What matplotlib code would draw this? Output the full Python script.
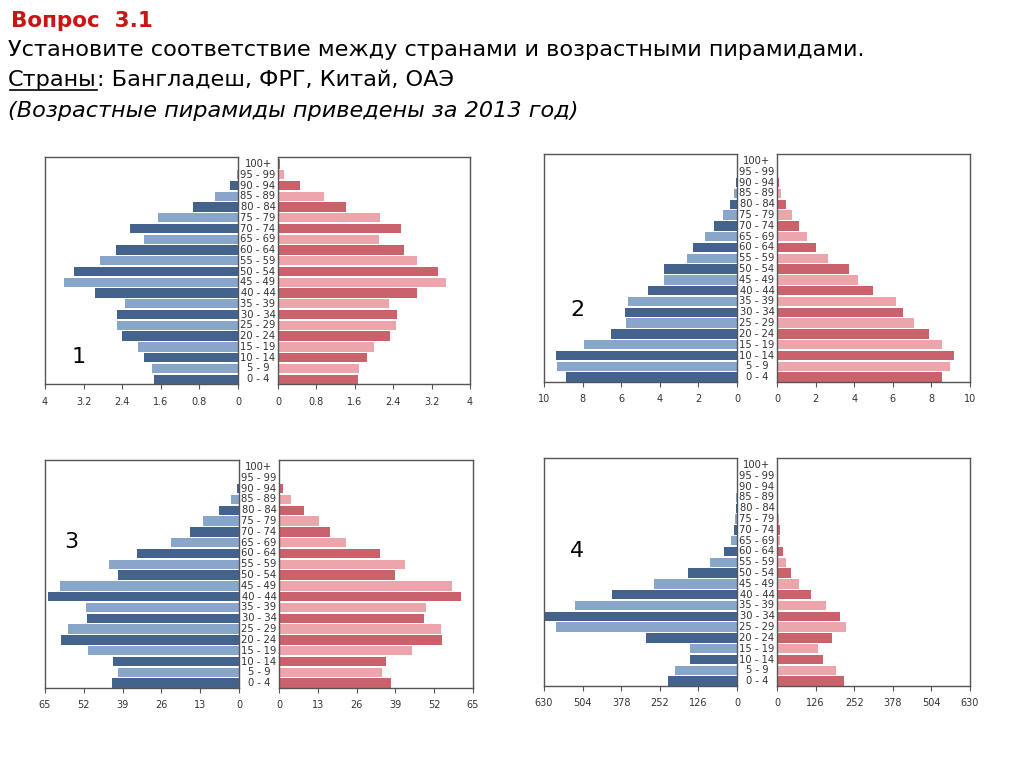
import numpy as np
import matplotlib.pyplot as plt
from matplotlib.transforms import blended_transform_factory
from matplotlib.lines import Line2D

# Возрастные группы (снизу вверх)
ages = ['0 - 4', '5 - 9', '10 - 14', '15 - 19', '20 - 24', '25 - 29', '30 - 34',
        '35 - 39', '40 - 44', '45 - 49', '50 - 54', '55 - 59', '60 - 64', '65 - 69',
        '70 - 74', '75 - 79', '80 - 84', '85 - 89', '90 - 94', '95 - 99', '100+']

# Пирамида 1
male_1 = [1.75, 1.78, 1.94, 2.08, 2.41, 2.51, 2.50, 2.35, 2.96, 3.61, 3.39,
          2.85, 2.52, 1.94, 2.23, 1.66, 0.93, 0.47, 0.17, 0.02, 0.005]
female_1 = [1.67, 1.69, 1.85, 1.99, 2.33, 2.45, 2.47, 2.32, 2.89, 3.51, 3.34,
            2.89, 2.63, 2.11, 2.57, 2.13, 1.41, 0.95, 0.46, 0.12, 0.04]
ticks_1 = [0, 0.8, 1.6, 2.4, 3.2, 4]
ticklabels_1 = ['0', '0.8', '1.6', '2.4', '3.2', '4']

# Пирамида 2
male_2 = [8.88, 9.33, 9.36, 7.91, 6.52, 5.74, 5.78, 5.66, 4.59, 3.79, 3.79,
          2.60, 2.26, 1.67, 1.19, 0.74, 0.36, 0.17, 0.07, 0.02, 0.02]
female_2 = [8.57, 8.98, 9.19, 8.57, 7.89, 7.08, 6.51, 6.18, 4.99, 4.20, 3.75,
            2.63, 2.02, 1.55, 1.16, 0.79, 0.45, 0.19, 0.09, 0.03, 0.02]
ticks_2 = [0, 2, 4, 6, 8, 10]
ticklabels_2 = ['0', '2', '4', '6', '8', '10']

# Пирамида 3
male_3 = [42.5, 40.4, 42.2, 50.5, 59.8, 57.2, 50.8, 51.1, 63.9, 60.0, 40.4,
          43.6, 34.3, 22.8, 16.5, 12.1, 6.8, 2.8, 0.8, 0.1, 0.1]
female_3 = [37.4, 34.5, 36.0, 44.4, 54.5, 54.2, 48.5, 49.4, 61.1, 57.9, 38.8,
            42.1, 33.9, 22.6, 17.1, 13.4, 8.4, 3.9, 1.5, 0.2, 0.2]
ticks_3 = [0, 13, 26, 39, 52, 65]
ticklabels_3 = ['0', '13', '26', '39', '52', '65']

# Пирамида 4
male_4 = [226, 201, 155, 155, 298, 590, 630, 528, 408, 272, 161,
          87, 42, 18, 10, 5, 2, 2, 0.5, 0.5, 0.5]
female_4 = [218, 194, 150, 134, 181, 225, 206, 159, 110, 71, 45,
            30, 18, 11, 10, 5, 2, 1, 1, 1, 0.5]
ticks_4 = [0, 126, 252, 378, 504, 630]
ticklabels_4 = ['0', '126', '252', '378', '504', '630']

W, H = 1024, 767
male_colors = ['#44638c', '#87a6c9']
female_colors = ['#c9626a', '#eca5aa']
frame_color = '#555555'
text_color = '#333333'


def px_axes(fig, x0, y0, x1, y1):
    return fig.add_axes([x0 / W, 1 - y1 / H, (x1 - x0) / W, (y1 - y0) / H])


def style_axes(ax, ticks, ticklabels, xmax):
    ax.set_xlim(0, xmax)
    ax.set_ylim(-0.45, len(ages) - 0.35)
    ax.set_yticks([])
    ax.set_xticks(ticks)
    ax.set_xticklabels(ticklabels)
    ax.tick_params(axis='x', labelsize=7, colors=frame_color, labelcolor=text_color,
                   length=3.5, width=0.8, pad=5.5)
    for s in ax.spines.values():
        s.set_color(frame_color)
        s.set_linewidth(1.0)


def pyramid(fig, box_l, box_r, male, female, ticks, ticklabels, num, num_pos):
    ax_l = px_axes(fig, *box_l)
    ax_r = px_axes(fig, *box_r)
    y = np.arange(len(ages))
    cm = [male_colors[i % 2] for i in y]
    cf = [female_colors[i % 2] for i in y]
    ax_l.barh(y, male, height=0.86, color=cm)
    ax_r.barh(y, female, height=0.86, color=cf)
    xmax = ticks[-1]
    style_axes(ax_l, ticks, ticklabels, xmax)
    style_axes(ax_r, ticks, ticklabels, xmax)
    ax_l.invert_xaxis()

    # подписи возрастных групп между половинами
    gap = box_r[0] - box_l[2]
    width = box_l[2] - box_l[0]
    xc = 1 + gap / 2 / width
    tr = blended_transform_factory(ax_l.transAxes, ax_l.transData)
    for i, a in enumerate(ages):
        ax_l.text(xc, i, a, transform=tr, ha='center', va='center',
                  fontsize=7.2, color=text_color, clip_on=False)

    fig.text(num_pos[0] / W, 1 - num_pos[1] / H, num, fontsize=16,
             ha='center', va='center', color='black')


def main():
    plt.rcParams['font.family'] = ['DejaVu Sans']
    fig = plt.figure(figsize=(W / 100, H / 100), dpi=100)
    fig.patch.set_facecolor('white')

    pyramid(fig, (45, 157, 238, 384), (278, 157, 470, 384),
            male_1, female_1, ticks_1, ticklabels_1, '1', (79, 357))
    pyramid(fig, (544, 154, 737, 382), (777, 154, 970, 382),
            male_2, female_2, ticks_2, ticklabels_2, '2', (577, 310))
    pyramid(fig, (45, 460, 239, 688), (279, 460, 473, 688),
            male_3, female_3, ticks_3, ticklabels_3, '3', (71, 542))
    pyramid(fig, (544, 458, 737, 686), (777, 458, 970, 686),
            male_4, female_4, ticks_4, ticklabels_4, '4', (577, 551))

    # Текст задания
    fig.text(11 / W, 1 - 27 / H, 'Вопрос  3.1', color='#cc1414',
             fontweight='bold', va='baseline', family='DejaVu Sans', fontsize=15.5)
    head = dict(family='DejaVu Sans', fontsize=16.1)
    fig.text(8 / W, 1 - 56 / H,
             'Установите соответствие между странами и возрастными пирамидами.',
             color='black', va='baseline', **head)
    t = fig.text(8 / W, 1 - 86 / H, 'Страны', color='black', va='baseline', **head)
    fig.canvas.draw()
    bb = t.get_window_extent()
    fig.text(bb.x1 / W, 1 - 86 / H, ': Бангладеш, ФРГ, Китай, ОАЭ',
             color='black', va='baseline', **head)
    yl = (H - 90) / H
    fig.add_artist(Line2D([(bb.x0 + 2) / W, bb.x1 / W], [yl, yl], color='black', lw=1.2))
    fig.text(8 / W, 1 - 117 / H,
             '(Возрастные пирамиды приведены за 2013 год)',
             color='black', va='baseline', style='italic', **head)

    fig.savefig('out.png', dpi=100, facecolor='white')


if __name__ == "__main__":
    main()
